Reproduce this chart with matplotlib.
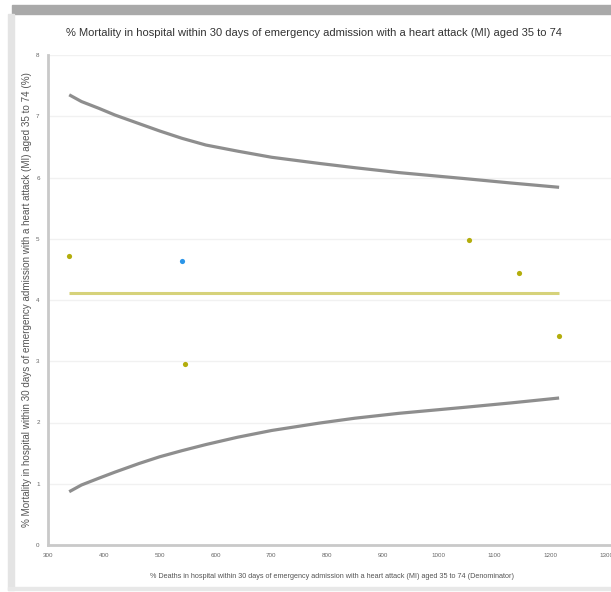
import matplotlib
matplotlib.use('Agg')
import matplotlib.pyplot as plt
from matplotlib.patches import Rectangle

# data
limit_x = [338, 360, 391, 420, 463, 500, 540, 583, 640, 701, 786, 850, 929, 1049, 1130, 1216]
upper_limit = [7.35, 7.24, 7.13, 7.02, 6.88, 6.76, 6.64, 6.53, 6.43, 6.33, 6.23, 6.16, 6.08, 5.98, 5.91, 5.84]
lower_limit = [0.87, 0.98, 1.09, 1.19, 1.33, 1.44, 1.54, 1.64, 1.76, 1.87, 1.99, 2.07, 2.15, 2.25, 2.32, 2.40]
mean_x = [338, 1216]
mean_y = [4.11, 4.11]
org_x = [338, 545, 1054, 1144, 1216]
org_y = [4.72, 2.96, 4.98, 4.44, 3.41]
focus_x = [540]
focus_y = [4.64]
xticks = [300, 400, 500, 600, 700, 800, 900, 1000, 1100, 1200, 1300]
yticks = [0, 1, 2, 3, 4, 5, 6, 7, 8]

title = '% Mortality in hospital within 30 days of emergency admission with a heart attack (MI) aged 35 to 74'
xlab = '% Deaths in hospital within 30 days of emergency admission with a heart attack (MI) aged 35 to 74 (Denominator)'
ylab = '% Mortality in hospital within 30 days of emergency admission with a heart attack (MI) aged 35 to 74 (%)'

plt.rcParams['font.family'] = ['Liberation Sans', 'DejaVu Sans']
W, H = 611, 592
fig = plt.figure(figsize=(W/100, H/100), dpi=100)

# window frame
fig.patches.append(Rectangle((12/W, 1-14/H), 1, 9/H, transform=fig.transFigure, color='#a9a9a9', zorder=0))
fig.patches.append(Rectangle((8/W, 2/H), 6/W, 1-16/H, transform=fig.transFigure, color='#e4e4e4', zorder=0))
fig.patches.append(Rectangle((8/W, 2/H), 1, 3/H, transform=fig.transFigure, color='#e8e8e8', zorder=0))

ax = fig.add_axes([48/W, 47/H, 1-48/W, (545-55)/H])
ax.set_xlim(300, 1309)
ax.set_ylim(0, 8)

ax.plot(limit_x, upper_limit, color='#8e8e8e', lw=2.3, solid_capstyle='butt')
ax.plot(limit_x, lower_limit, color='#8e8e8e', lw=2.3, solid_capstyle='butt')
ax.plot(mean_x, mean_y, color='#d6d27a', lw=2.2, solid_capstyle='butt')
ax.scatter(org_x, org_y, s=14, color='#b3ad0c', zorder=3, linewidths=0)
ax.scatter(focus_x, focus_y, s=14, color='#2b95e8', zorder=3, linewidths=0)

ax.set_xticks(xticks)
ax.set_yticks(yticks)
ax.tick_params(length=0, labelsize=4.5, labelcolor='#666666', pad=6)
ax.grid(axis='y', color='#f1f1f1', lw=1)
ax.set_axisbelow(True)
for s in ['top', 'right']:
    ax.spines[s].set_visible(False)
for s in ['left', 'bottom']:
    ax.spines[s].set_color('#c9c9c9')
    ax.spines[s].set_linewidth(2)

fig.text(314/W, 1-33/H, title, ha='center', va='center', fontsize=8.0, color='#333333')
fig.text(332/W, 1-577/H, xlab, ha='center', va='center', fontsize=5.2, color='#555555')
fig.text(27/W, 1-300/H, ylab, ha='center', va='center', fontsize=7.1, color='#555555', rotation=90)

fig.savefig('out.png', dpi=100)
